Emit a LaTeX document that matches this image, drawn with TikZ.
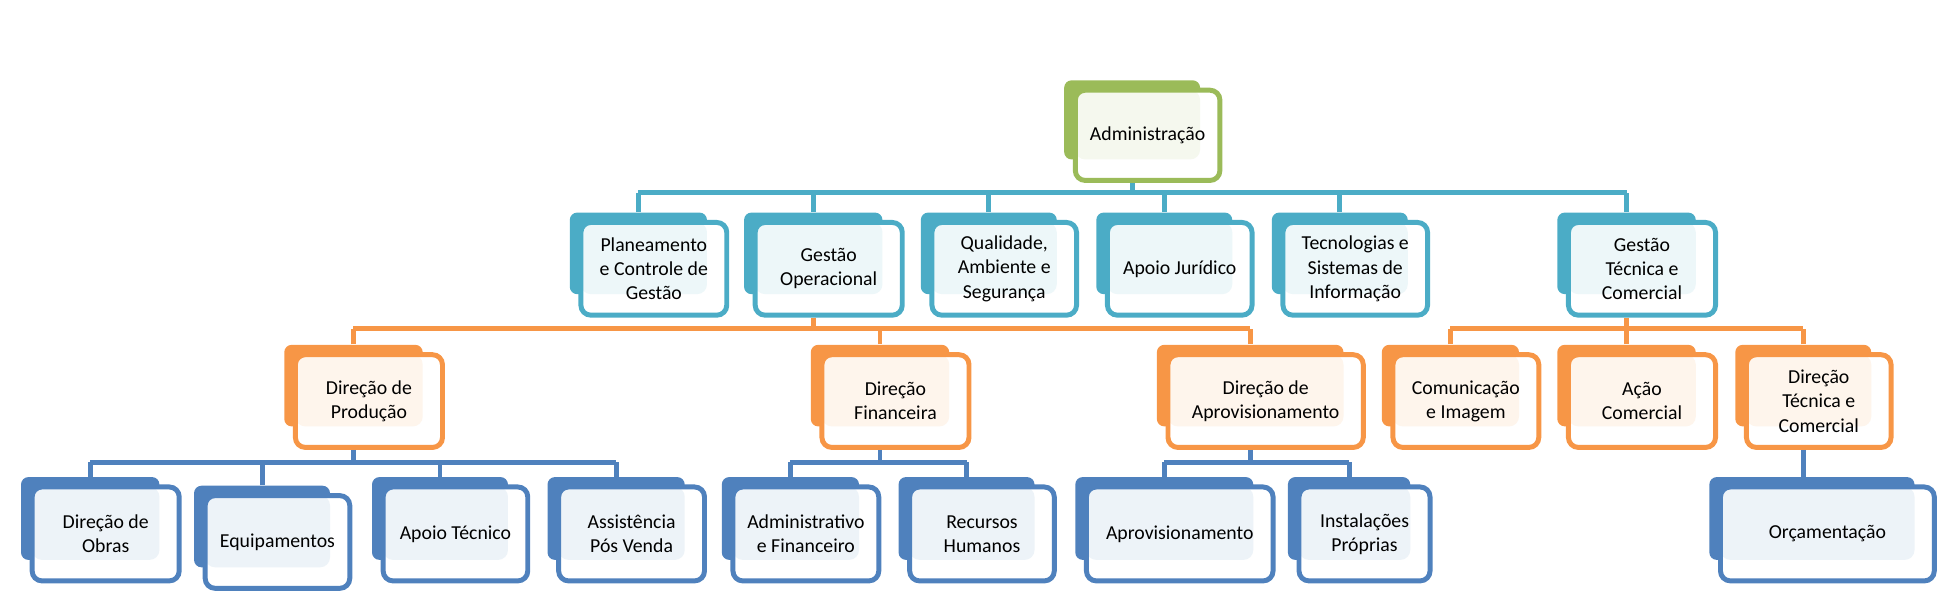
\documentclass[tikz,border=0pt]{standalone}
\usepackage{fontspec}
\setmainfont{Carlito}
\definecolor{cg}{HTML}{9BBB59}
\definecolor{ct}{HTML}{4BACC6}
\definecolor{co}{HTML}{F79646}
\definecolor{cb}{HTML}{4F81BD}
\tikzset{
 back/.style={fill=#1, rounded corners=3pt, inner sep=0pt},
 front/.style={draw=#1, fill=white, line width=2pt, rounded corners=4pt, inner sep=0pt, align=center, font=\fontsize{8}{9.8}\selectfont},
 con/.style={draw=#1, line width=2pt},
}
% name, fx1, fy1, fx2, fy2, color, text
\newcommand\obx[7]{%
 \node[back=#6, minimum width={(#4-#2-7)*0.5pt}, minimum height={(#5-#3-9)*0.5pt}] (#1b) at ({(#2+#4)/2-12.5},{-(#3+#5)/2+12.5}) {};
 \node[front=#6, minimum width={(#4-#2)*0.5pt}, minimum height={(#5-#3)*0.5pt},
   path picture={\fill[#6!10] (path picture bounding box.north west) rectangle ++({#4-#2-16},{-(#5-#3-17)});}]
   (#1) at ({(#2+#4)/2},{-(#3+#5)/2}) {#7};}
\begin{document}
\begin{tikzpicture}[x=0.5pt,y=0.5pt]
\useasboundingbox (0,0) rectangle (1568,-490);
\obx{adm}{870}{73}{987}{146}{cg}{Administração}
\obx{pla}{470}{180}{588}{255}{ct}{Planeamento\\e Controle de\\Gestão}
\obx{gop}{611}{180}{730}{255}{ct}{Gestão\\Operacional}
\obx{qua}{754}{180}{871}{255}{ct}{Qualidade,\\Ambiente e\\Segurança}
\obx{apj}{896}{180}{1013}{255}{ct}{Apoio Jurídico}
\obx{tec}{1038}{180}{1155}{255}{ct}{Tecnologias e\\Sistemas de\\Informação}
\obx{gtc}{1269}{180}{1388}{255}{ct}{Gestão\\Técnica e\\Comercial}
\obx{dpr}{239}{287}{358}{362}{co}{Direção de\\Produção}
\obx{dfi}{665}{287}{784}{362}{co}{Direção\\Financeira}
\obx{dap}{945}{287}{1103}{362}{co}{Direção de\\Aprovisionamento}
\obx{com}{1127}{287}{1245}{362}{co}{Comunicação\\e Imagem}
\obx{aco}{1269}{287}{1388}{362}{co}{Ação\\Comercial}
\obx{dtc}{1413}{287}{1530}{362}{co}{Direção\\Técnica e\\Comercial}
\obx{obr}{26}{394}{145}{470}{cb}{Direção de\\Obras}
\obx{equ}{166}{401}{283}{476}{cb}{Equipamentos}
\obx{apt}{310}{394}{427}{470}{cb}{Apoio Técnico}
\obx{ass}{452}{394}{570}{470}{cb}{Assistência\\Pós Venda}
\obx{adf}{593}{394}{711}{470}{cb}{Administrativo\\e Financeiro}
\obx{rhu}{736}{394}{853}{470}{cb}{Recursos\\Humanos}
\obx{apr}{879}{394}{1030}{470}{cb}{Aprovisionamento}
\obx{ins}{1051}{394}{1157}{470}{cb}{Instalações\\Próprias}
\obx{orc}{1392}{394}{1565}{470}{cb}{Orçamentação}
% connectors
\coordinate (b1) at (0,-156);
\coordinate (b2) at (0,-266);
\coordinate (b3) at (0,-374);
\path[con=ct] (admb.south|-adm.south) -- (admb.south|-b1) (plab.north|-b1) -- (gtcb.north|-b1);
\foreach \c in {pla,gop,qua,apj,tec,gtc} \path[con=ct] (\c b.north) -- (\c b.north|-b1);
\path[con=co] (gopb.south|-gop.south) -- (gopb.south|-b2) (dprb.north|-b2) -- (dapb.north|-b2);
\foreach \c in {dpr,dfi,dap} \path[con=co] (\c b.north) -- (\c b.north|-b2);
\path[con=co] (gtcb.south|-gtc.south) -- (gtcb.south|-b2) (comb.north|-b2) -- (dtcb.north|-b2);
\foreach \c in {com,aco,dtc} \path[con=co] (\c b.north) -- (\c b.north|-b2);
\path[con=cb] (dprb.south|-dpr.south) -- (dprb.south|-b3) (obrb.north|-b3) -- (assb.north|-b3);
\foreach \c in {obr,equ,apt,ass} \path[con=cb] (\c b.north) -- (\c b.north|-b3);
\path[con=cb] (dfib.south|-dfi.south) -- (dfib.south|-b3) (adfb.north|-b3) -- (rhub.north|-b3);
\foreach \c in {adf,rhu} \path[con=cb] (\c b.north) -- (\c b.north|-b3);
\path[con=cb] (dapb.south|-dap.south) -- (dapb.south|-b3) (aprb.north|-b3) -- (insb.north|-b3);
\foreach \c in {apr,ins} \path[con=cb] (\c b.north) -- (\c b.north|-b3);
\path[con=cb] (dtcb.south|-dtc.south) -- (dtcb.south|-orcb.north);
\end{tikzpicture}
\end{document}
